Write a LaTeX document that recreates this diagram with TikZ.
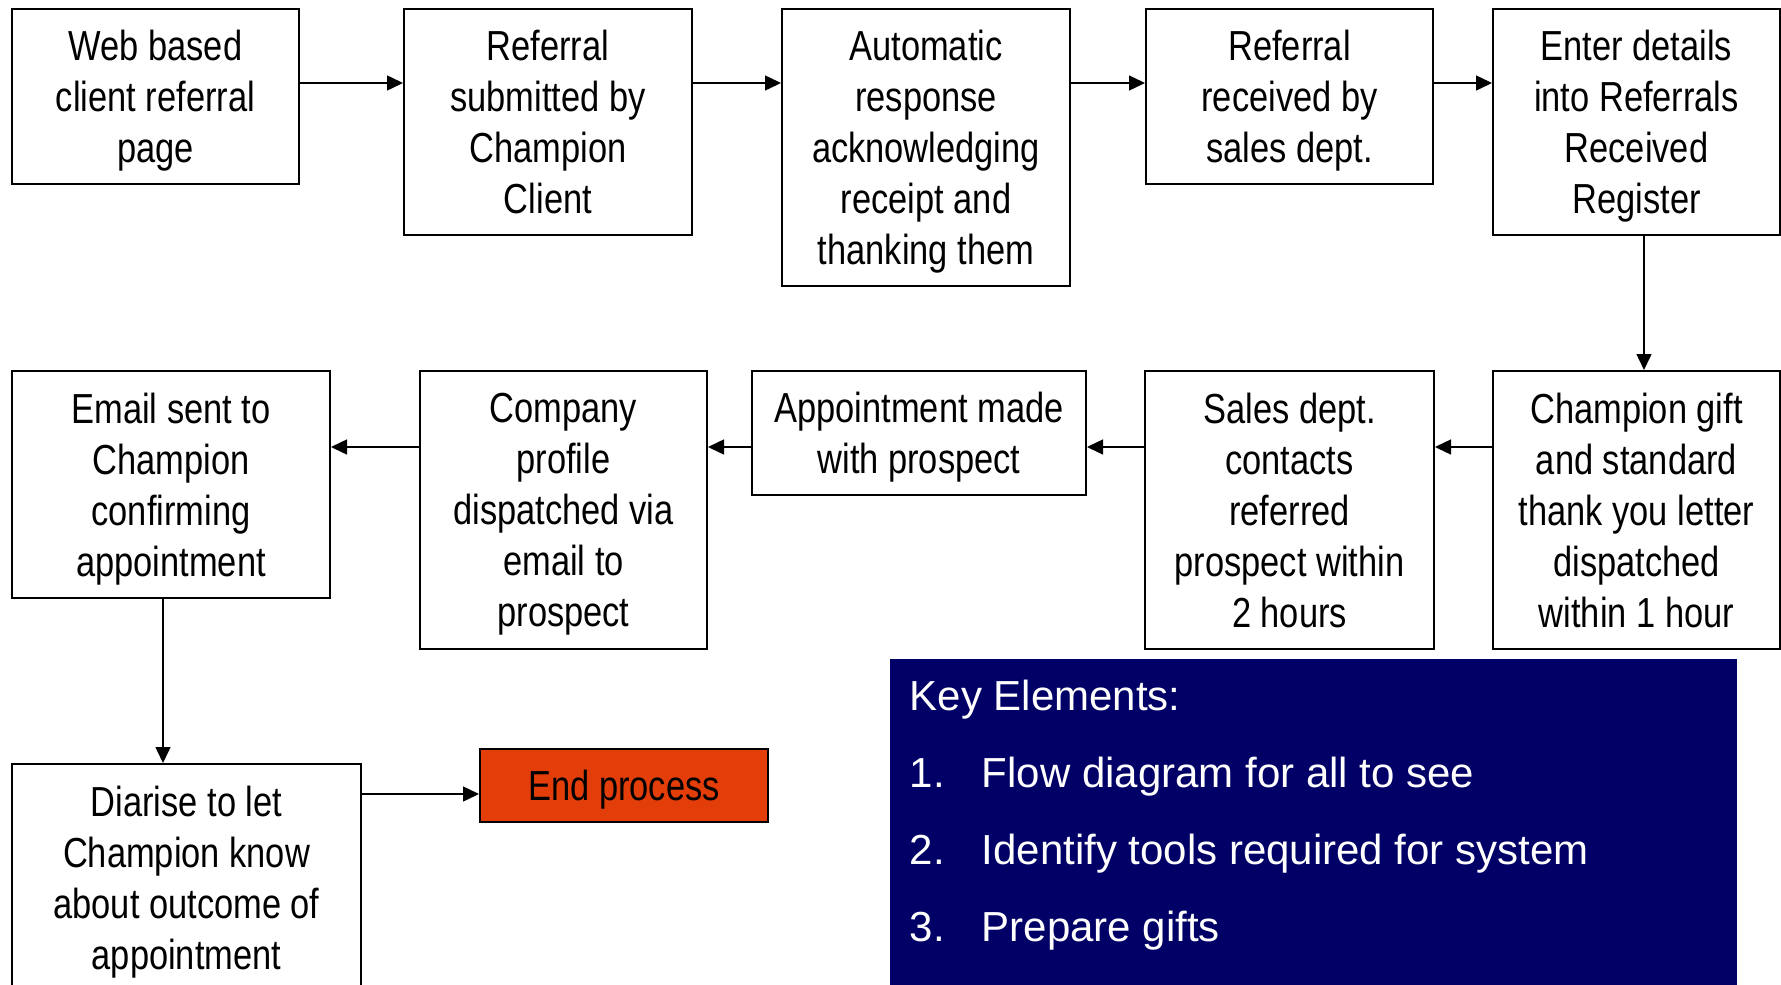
\documentclass[tikz,border=0pt]{standalone}
\usepackage{fontspec}
\setmainfont{Liberation Sans}
\newfontfamily\narrowfont[FakeStretch=0.82]{Liberation Sans}
\usetikzlibrary{arrows.meta}
\definecolor{keyblue}{RGB}{0,0,102}
\definecolor{endred}{RGB}{227,61,10}

\begin{document}
\begin{tikzpicture}[x=1pt,y=-1pt,->,>={Triangle[length=16pt,width=15pt]},line width=1.5pt,
  box/.style={draw,line width=2pt,anchor=north west,align=center,inner sep=0pt,text depth=0pt,
    font=\narrowfont\fontsize{42}{51}\selectfont},
  keytext/.style={anchor=base west,inner sep=0pt,text=white,font=\fontsize{42}{51}\selectfont}]
\useasboundingbox (0,0) rectangle (1781,985);
% top row
\node[box,minimum width=287pt,minimum height=175pt] (web) at (11,8) {Web based\\client referral\\page};
\node[box,minimum width=288pt,minimum height=226pt] (sub) at (403,8) {Referral\\submitted by\\Champion\\Client};
\node[box,minimum width=288pt,minimum height=277pt] (auto) at (781,8) {Automatic\\response\\acknowledging\\receipt and\\thanking them};
\node[box,minimum width=287pt,minimum height=175pt] (recv) at (1145,8) {Referral\\received by\\sales dept.};
\node[box,minimum width=287pt,minimum height=226pt] (enter) at (1492,8) {Enter details\\into Referrals\\Received\\Register};
% middle row, runs right to left
\node[box,minimum width=287pt,minimum height=278pt] (gift) at (1492,370) {Champion gift\\and standard\\thank you letter\\dispatched\\within 1 hour};
\node[box,minimum width=289pt,minimum height=278pt] (sales) at (1144,370) {Sales dept.\\contacts\\referred\\prospect within\\2 hours};
\node[box,minimum width=334pt,minimum height=124pt] (appt) at (751,370) {Appointment made\\with prospect};
\node[box,minimum width=287pt,minimum height=278pt] (company) at (419,370) {Company\\profile\\dispatched via\\email to\\prospect};
\node[box,minimum width=318pt,minimum height=227pt] (email) at (11,370) {Email sent to\\Champion\\confirming\\appointment};
% bottom row
\node[box,minimum width=349pt,minimum height=228pt] (diarise) at (11,763) {Diarise to let\\Champion know\\about outcome of\\appointment};
\node[box,fill=endred,minimum width=288pt,minimum height=73pt] (end) at (479,748) {End process};
\node[anchor=north west,fill=keyblue,inner sep=0pt,minimum width=847pt,minimum height=340pt] (key) at (889,658) {};
\node[keytext] (head) at ([xshift=20pt,yshift=-52pt]key.north west) {Key Elements:};
\foreach \k/\t in {1/Flow diagram for all to see,2/Identify tools required for system,3/Prepare gifts} {
  \node[keytext] (num\k) at ([yshift={-77pt*\k}]head.base west) {\k.};
  \node[keytext] (item\k) at ([xshift=72pt]num\k.base west) {\t};
}
\path ([yshift=-75pt]web.north east) edge ([yshift=-75pt]sub.north west)
      ([yshift=-75pt]sub.north east) edge ([yshift=-75pt]auto.north west)
      ([yshift=-75pt]auto.north east) edge ([yshift=-75pt]recv.north west)
      ([yshift=-75pt]recv.north east) edge ([yshift=-75pt]enter.north west)
      ([xshift=152pt]enter.south west) edge ([xshift=152pt]gift.north west)
      ([yshift=-77pt]gift.north west) edge ([yshift=-77pt]sales.north east)
      ([yshift=-77pt]sales.north west) edge ([yshift=-77pt]appt.north east)
      ([yshift=-77pt]appt.north west) edge ([yshift=-77pt]company.north east)
      ([yshift=-77pt]company.north west) edge ([yshift=-77pt]email.north east)
      ([xshift=152pt]email.south west) edge ([xshift=152pt]diarise.north west)
      ([yshift=-31pt]diarise.north east) edge ([yshift=-46pt]end.north west)
;
\end{tikzpicture}
\end{document}
